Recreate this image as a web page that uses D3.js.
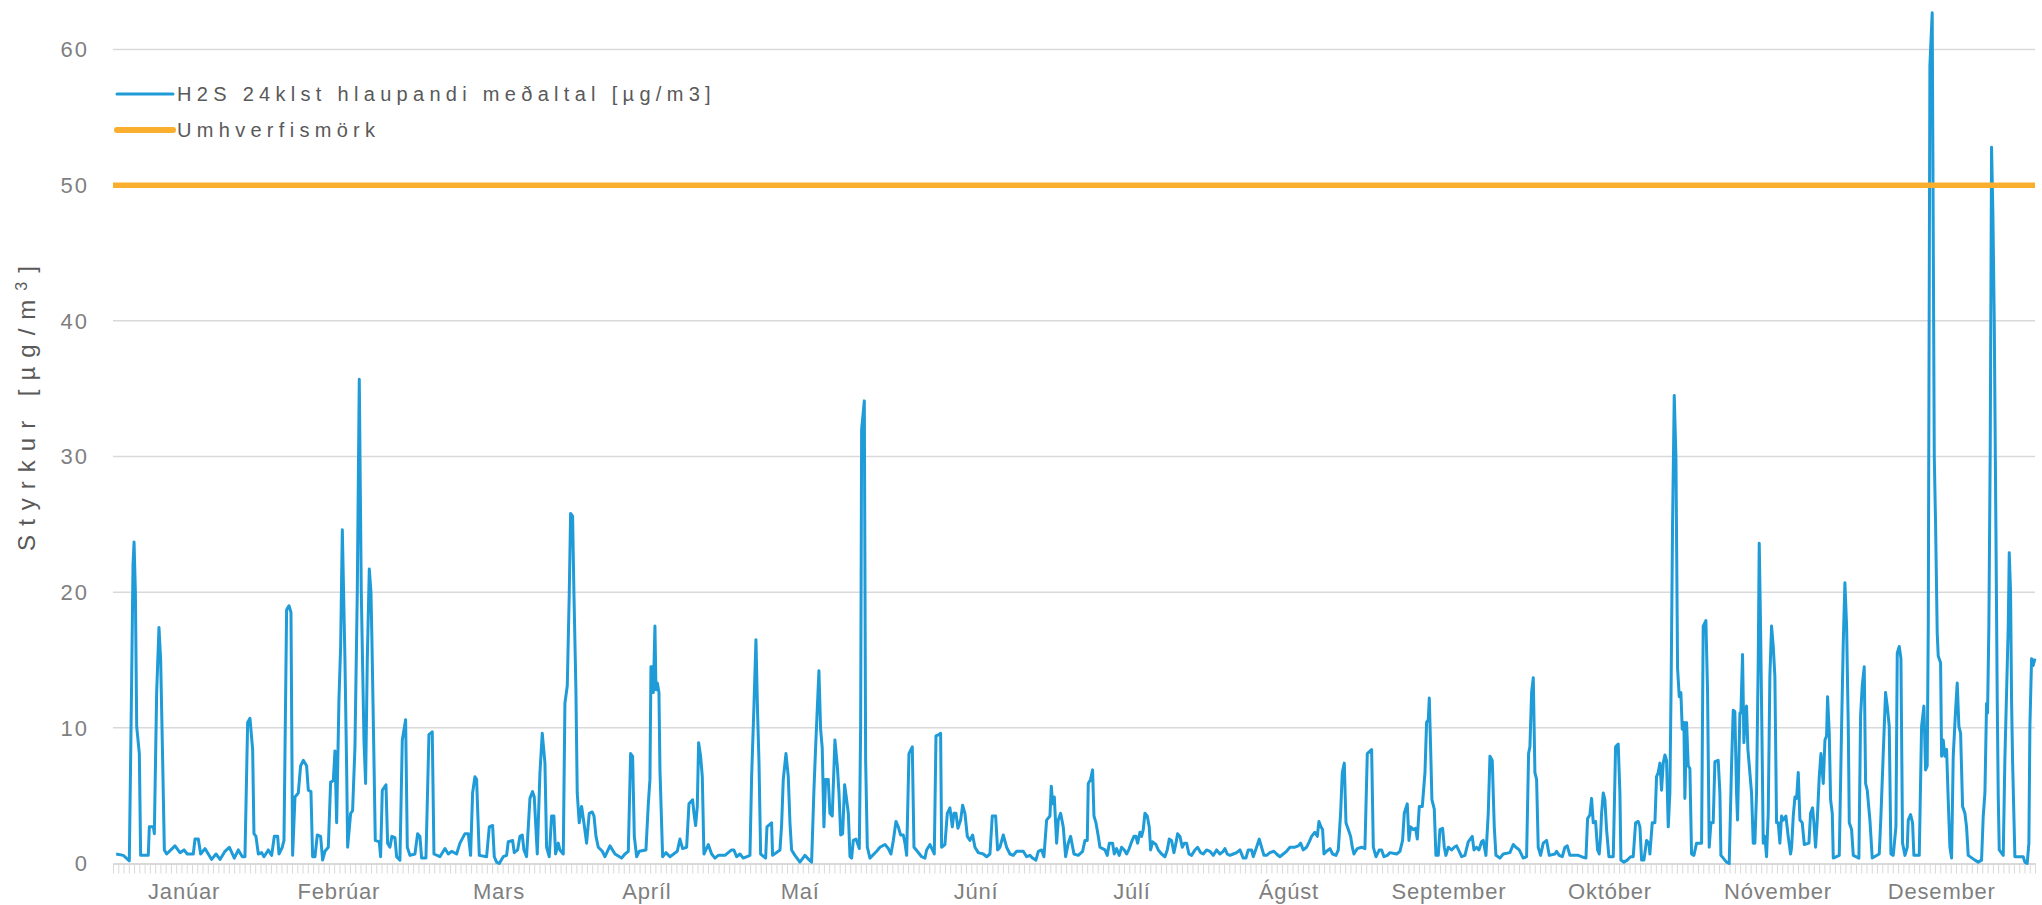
<!DOCTYPE html>
<html><head><meta charset="utf-8">
<script src="https://cdn.jsdelivr.net/npm/d3@7"></script>
<style>body{margin:0;background:#fff} svg{display:block} text{font-family:"Liberation Sans",Arial,sans-serif}</style>
</head><body>
<svg id="chart" width="2042" height="905"></svg>
<script>
// ---- DATA ----
const monthLabels = ["Janúar","Febrúar","Mars","Apríl","Maí","Júní","Júlí","Ágúst","September","Október","Nóvember","Desember"];
const monthLabelDay = [13.5, 42.9, 73.3, 101.4, 130.5, 163.9, 193.5, 223.3, 253.7, 284.3, 316.2, 347.3];
const yTicks = [0, 10, 20, 30, 40, 50, 60];
const limitValue = 50;
const seriesName = "H2S 24klst hlaupandi meðaltal [µg/m3]";
const limitName = "Umhverfismörk";
const yTitle = "Styrkur [µg/m";

// [day of year, H2S µg/m3]
const h2sSeg1 = [[0.6,0.7],[1.96,0.6],[3.1,0.2],[3.55,13.8],[3.8,22],[4.0,23.7],[4.25,20],[4.5,10.1],[5.0,8.1],[5.25,0.6],[6.7,0.6],[6.9,2.7],[7.66,2.7],[7.85,2.2],[8.29,12.6],[8.73,17.4],[9.05,15],[9.43,7.6],[9.75,1.0],[10.19,0.7],[11.77,1.3],[12.72,0.8],[13.48,1.0],[14.11,0.7],[15.25,0.7],[15.57,1.8],[16.2,1.8],[16.65,0.7],[17.47,1.1],[18.73,0.3],[19.56,0.7],[20.32,0.3],[21.27,0.9],[22.09,1.2],[23.04,0.4],[23.8,1.0],[24.56,0.5],[25.06,0.5],[25.57,10.4],[26.01,10.7],[26.52,8.4],[26.77,2.2],[27.15,2.0],[27.6,0.7],[28.23,0.8],[28.67,0.5],[29.49,1.0],[30.13,0.6],[30.63,2.0],[31.27,2.0],[31.52,0.7],[32.15,1.2],[32.47,1.7],[32.97,18.7],[33.42,19.0],[33.8,18.5],[34.11,0.6],[34.56,4.9],[35.19,5.2],[35.63,7.2],[36.14,7.6],[36.77,7.2],[37.09,5.4],[37.59,5.3],[37.91,0.5],[38.35,0.5],[38.8,2.1],[39.43,2.0],[39.81,0.25],[40.25,0.9],[40.89,1.2],[41.33,6.0],[41.84,6.1],[42.15,8.3],[42.47,3.0],[42.91,12.1],[43.23,16],[43.55,24.6],[44.05,15],[44.37,7],[44.56,1.2],[45.13,3.7],[45.5,3.9]];
const h2sSeg2 = [[45.95,8.6],[46.39,20],[46.77,35.7],[47.15,20],[47.66,9.1],[47.97,5.9],[48.29,15],[48.67,21.7],[48.99,20],[49.18,16.3],[49.56,7.6],[49.81,1.7],[50.57,1.6],[50.82,0.5],[51.14,5.4],[51.84,5.8],[52.15,1.5],[52.59,1.2],[52.97,2.0],[53.54,1.9],[53.86,0.5],[54.49,0.25],[54.94,9.1],[55.57,10.6],[55.89,1.2],[56.39,0.6],[57.34,0.7],[57.85,2.2],[58.29,2.0],[58.61,0.4],[59.43,0.4],[60.0,9.5],[60.63,9.7],[60.95,0.7],[62.09,0.5],[63.04,1.1],[63.67,0.7],[64.3,0.9],[65.25,0.7],[65.89,1.5],[66.84,2.2],[67.47,2.2],[67.91,0.6],[68.29,5.2],[68.73,6.4],[69.05,6.2],[69.56,0.6],[70.95,0.5],[71.46,2.7],[72.09,2.8],[72.41,0.5],[72.85,0.1],[73.35,0.0],[74.11,0.5],[74.75,0.6],[75.06,1.6],[75.89,1.7],[76.2,0.8],[76.84,1.0],[77.28,2.0],[77.72,2.1],[78.04,1.0],[78.54,0.5],[79.18,4.8],[79.68,5.3],[80.0,4.9],[80.57,0.7],[81.08,6.7],[81.52,9.6],[82.03,7.4],[82.34,1.2],[82.85,0.5],[83.29,3.5],[83.73,3.5],[84.05,0.7],[84.56,1.5],[84.87,1.0],[85.51,0.7],[85.82,11.8],[86.27,13.1],[86.65,20],[86.9,25.8],[87.28,25.6],[87.53,20],[87.91,12.8],[88.16,5.2],[88.54,3.0],[88.99,4.2],[89.43,3.0],[89.94,1.5],[90.44,3.7],[91.0,3.8],[91.34,3.5]];
const h2sSeg3 = [[91.72,2.0],[92.16,1.2],[92.92,0.9],[93.43,0.5],[94.38,1.3],[95.33,0.7],[96.59,0.4],[97.23,0.7],[97.86,0.9],[98.3,8.1],[98.68,7.9],[99.0,2.0],[99.44,0.5],[99.95,0.9],[101.21,1.0],[101.66,4.4],[101.97,6.2],[102.16,14.5],[102.48,14.5],[102.61,12.6],[102.92,17.5],[103.11,12.8],[103.37,13.3],[103.68,12.6],[103.87,6.9],[104.38,0.5],[105.01,0.8],[105.77,0.5],[107.16,0.9],[107.67,1.8],[108.17,1.1],[108.94,1.2],[109.38,4.4],[110.07,4.7],[110.33,3.7],[110.64,2.8],[110.96,4.2],[111.21,8.9],[111.59,7.9],[111.91,6.4],[112.22,0.7],[113.05,1.4],[113.68,0.7],[114.31,0.4],[114.95,0.6],[116.21,0.6],[117.48,1.0],[117.92,1.0],[118.43,0.5],[119.06,0.7],[119.69,0.4],[120.96,0.6],[121.28,6.4],[121.72,11.6],[122.1,16.5],[122.41,11.1],[122.67,7.6],[122.99,0.7],[123.94,0.4],[124.19,2.7],[125.07,3.0],[125.26,0.6],[126.66,1.0],[126.97,2.8],[127.29,6.2],[127.8,8.1],[128.24,6.4],[128.56,3.0],[128.87,1.0],[129.5,0.6],[130.45,0.1],[131.4,0.6],[132.23,0.25],[132.67,0.1],[133.11,5.4],[133.49,9.1],[134.06,14.2],[134.38,9.9],[134.69,8.5],[135.01,2.7],[135.33,6.2],[135.83,6.2],[136.15,3.7],[136.59,3.5],[137.1,9.1]];
const h2sSeg4 = [[137.55,7.2],[137.87,5.2],[138.19,2.1],[138.56,2.2],[138.94,5.8],[139.32,4.7],[139.64,3.7],[139.96,0.5],[140.27,0.4],[140.59,1.7],[141.1,1.8],[141.73,1.1],[141.98,10],[142.17,32],[142.49,33.3],[142.68,34.1],[142.93,7.6],[143.25,1.2],[143.75,0.4],[145.02,0.9],[145.65,1.2],[146.6,1.4],[147.24,1.1],[147.74,0.7],[148.19,1.7],[148.69,3.1],[149.13,2.7],[149.58,2.1],[150.08,2.1],[150.4,1.5],[150.72,0.6],[151.16,8.1],[151.79,8.6],[152.11,1.2],[152.74,0.9],[153.56,0.5],[154.2,0.4],[154.51,1.0],[155.15,1.4],[155.97,0.7],[156.29,9.4],[156.86,9.5],[157.17,9.6],[157.36,1.2],[157.99,1.4],[158.44,3.7],[158.94,4.1],[159.39,2.7],[159.7,3.7],[160.08,3.7],[160.46,2.6],[160.97,3.2],[161.35,4.3],[161.79,3.7],[162.24,2.0],[162.74,1.7],[163.25,2.1],[163.69,1.2],[164.32,0.8],[165.27,0.7],[165.91,0.5],[166.54,0.7],[166.98,3.5],[167.62,3.5],[167.99,1.0],[168.44,1.2],[169.07,2.1],[169.7,1.2],[170.34,0.7],[170.97,0.6],[171.6,0.9],[172.87,0.9],[173.5,0.5],[174.13,0.6],[174.64,0.4],[175.27,0.25],[175.72,0.9],[176.35,1.0],[176.79,0.5],[177.3,3.2],[177.93,3.5],[178.19,5.7],[178.44,4.4],[178.76,4.9],[179.2,1.5],[179.51,3.2],[179.96,3.7],[180.46,2.7],[180.91,0.5],[181.41,1.5],[181.86,2.0]];
const h2sSeg5 = [[182.49,0.7],[183.31,0.6],[184.14,0.9],[184.58,1.7],[185.02,1.7],[185.21,5.9],[185.65,6.2],[186.03,6.9],[186.29,3.5],[186.67,3.0],[187.11,2.0],[187.43,1.2],[188.38,1.0],[188.82,0.6],[189.2,1.5],[189.83,1.5],[190.15,0.7],[190.59,1.1],[191.1,0.6],[191.54,1.2],[192.05,1.0],[192.49,0.7],[192.99,1.1],[193.44,1.6],[193.88,2.0],[194.26,2.0],[194.58,1.5],[195.02,2.3],[195.34,2.0],[195.65,2.5],[195.97,3.7],[196.41,3.5],[196.79,2.7],[197.05,1.0],[197.43,1.6],[198.06,1.4],[198.5,1.0],[199.14,0.7],[199.77,0.5],[200.21,1.0],[200.59,1.8],[201.03,1.7],[201.48,0.8],[201.86,1.5],[202.17,2.2],[202.62,2.0],[203.06,1.2],[203.44,1.5],[203.88,1.5],[204.33,0.7],[204.83,0.6],[205.46,1.0],[205.97,1.2],[206.54,0.8],[207.05,0.7],[207.68,1.0],[208.31,0.9],[208.95,0.6],[209.58,1.0],[210.21,0.7],[210.84,0.9],[211.16,1.1],[211.6,0.7],[212.11,0.6],[212.74,0.7],[213.38,0.8],[214.01,1.0],[214.64,0.4],[215.15,0.4],[215.59,1.0],[216.22,1.0],[216.54,0.5],[217.17,1.2],[217.68,1.8],[218.12,1.2],[218.57,0.6],[219.07,0.6],[219.7,0.8],[220.46,0.9],[220.97,0.7],[221.6,0.5],[222.24,0.7],[222.87,0.9],[223.5,1.2],[224.01,1.2],[224.45,1.2],[225.09,1.3],[225.53,1.5],[226.04,1.0],[226.67,1.2],[227.17,1.6],[227.62,2.0],[228.25,2.3]];
const h2sSeg6 = [[228.7,2.0],[229.02,3.1],[229.4,2.7],[229.71,2.5],[229.97,0.7],[230.47,0.9],[231.11,1.1],[231.61,0.7],[232.25,0.6],[232.69,1.0],[233.13,3.7],[233.45,6.7],[233.83,7.4],[234.15,3.0],[234.59,2.5],[235.03,2.0],[235.35,1.2],[235.66,0.7],[236.3,1.1],[237.12,1.2],[237.75,1.1],[238.2,8.1],[239.02,8.4],[239.34,1.2],[239.84,0.5],[240.47,1.0],[240.92,1.0],[241.36,0.5],[242.0,0.6],[242.5,0.8],[243.77,0.7],[244.4,0.9],[244.9,1.7],[245.22,3.7],[245.79,4.4],[246.11,1.7],[246.42,2.7],[246.93,2.5],[247.37,2.6],[247.69,1.8],[248.07,4.2],[248.64,4.2],[249.15,6.7],[249.46,10.4],[249.78,10.6],[249.97,12.2],[250.22,8.6],[250.47,4.7],[250.92,4.0],[251.23,0.6],[251.68,0.6],[251.99,2.5],[252.5,2.6],[252.82,1.2],[253.13,0.6],[253.58,1.2],[254.21,1.0],[254.71,1.2],[255.16,1.3],[255.66,0.9],[256.11,0.5],[256.74,0.6],[257.37,1.6],[258.13,2.0],[258.45,1.0],[258.95,1.2],[259.4,1.0],[259.9,1.6],[260.22,1.7],[260.73,0.6],[261.17,3.7],[261.49,7.9],[261.93,7.6],[262.31,2.7],[262.63,0.6],[263.39,0.4],[264.02,0.7],[265.28,0.8],[265.92,1.4],[266.42,1.2],[267.06,1.0],[267.81,0.4],[268.45,0.5],[268.83,8.1],[269.08,8.6],[269.4,12.6],[269.72,13.7],[270.03,6.7],[270.35,6.2],[270.66,1.2],[271.11,0.6],[271.61,1.5],[272.25,1.7],[272.75,0.6]];
const h2sSeg7 = [[273.83,0.7],[274.15,0.9],[274.65,0.6],[275.22,0.5],[275.73,1.2],[276.17,1.3],[276.68,0.6],[278.26,0.6],[278.89,0.5],[279.72,0.4],[280.03,3.3],[280.48,3.6],[280.79,4.8],[281.11,3.0],[281.55,3.1],[281.93,1.0],[282.25,0.7],[282.5,2.0],[282.69,3.7],[283.01,5.2],[283.32,4.7],[283.64,2.5],[284.08,0.5],[284.91,0.5],[285.35,8.6],[285.85,8.8],[286.17,5.2],[286.36,0.25],[286.93,0.1],[287.56,0.25],[288.2,0.5],[288.7,0.5],[289.15,3.0],[289.65,3.1],[289.97,2.7],[290.29,0.25],[290.73,0.25],[291.24,1.7],[291.68,1.5],[291.87,0.7],[292.31,3.0],[292.82,3.0],[293.13,6.4],[293.45,6.7],[293.77,7.4],[294.08,5.4],[294.4,7.4],[294.72,8.0],[295.03,7.6],[295.35,2.7],[295.66,5.2],[295.92,14],[296.17,25],[296.49,34.5],[296.81,30],[297.12,14.4],[297.44,12.3],[297.75,12.6],[298.01,9.9],[298.32,10.4],[298.51,4.8],[298.83,10.4],[299.15,7.2],[299.46,7.0],[299.78,0.7],[300.22,0.6],[300.73,1.5],[301.68,1.5],[301.99,17.5],[302.5,17.9],[302.82,12.6],[303.13,1.2],[303.45,3.0],[303.89,3.0],[304.21,7.5],[304.84,7.6],[305.16,5.2],[305.35,0.6],[305.79,0.4],[306.42,0.1],[306.93,0.0],[307.37,7.2],[307.69,11.3],[308.0,11.2],[308.32,5.2],[308.51,3.2],[308.96,11.1],[309.15,11.1],[309.46,15.4],[309.72,8.9],[310.03,11.3],[310.22,11.6],[310.48,8.4],[310.85,6.7],[311.17,5.2],[311.49,1.5],[311.8,1.5],[312.12,5.2],[312.44,15],[312.63,23.6],[312.88,17.5],[313.13,10],[313.39,1.5],[313.7,2.0],[314.02,0.5],[314.34,3.7],[314.65,13.8],[314.97,17.5],[315.29,16.0],[315.6,13.8],[315.92,3.0],[316.24,3.0],[316.55,1.5],[316.87,3.5],[317.19,3.2],[317.69,3.5],[318.13,2.0],[318.58,0.7]];
const h2sSeg8 = [[318.78,1.2],[319.09,3.5],[319.41,4.9],[319.73,4.8],[320.04,6.7],[320.36,3.2],[320.8,3.0],[321.18,1.4],[322.07,1.5],[322.38,3.7],[322.76,4.1],[323.02,3.0],[323.33,1.2],[323.65,3.2],[324.03,6.4],[324.35,8.1],[324.79,5.9],[325.11,9.1],[325.42,9.4],[325.61,12.3],[325.93,9.6],[326.18,4.7],[326.5,3.7],[326.69,0.4],[327.83,0.6],[328.27,10.1],[328.59,16.3],[328.9,20.7],[329.22,17.5],[329.54,10.1],[329.73,3.0],[330.17,2.5],[330.49,0.6],[331.56,0.4],[331.88,10.9],[332.19,13.1],[332.57,14.5],[332.83,5.9],[333.14,5.4],[333.65,3.2],[334.09,0.4],[335.42,0.7],[335.74,3.5],[336.18,8.1],[336.62,12.6],[336.94,11.6],[337.32,10.1],[337.64,0.7],[338.08,0.6],[338.59,2.7],[338.84,15.5],[339.22,16.0],[339.54,15.1],[339.85,1.5],[340.3,0.6],[340.74,1.2],[340.93,3.2],[341.37,3.6],[341.75,3.0],[342.0,0.6],[343.02,0.6],[343.46,10.1],[343.9,11.6],[344.22,6.9],[344.53,7.2],[344.73,17.5],[345.04,58.8],[345.48,62.7],[345.87,30],[346.12,25],[346.43,17],[346.62,15.3],[347.07,14.8],[347.26,7.9],[347.57,9.1],[347.89,7.9],[348.21,8.4],[348.52,4.7],[348.84,1.2],[349.16,0.4],[349.47,7.9],[349.92,11.3],[350.23,13.3],[350.55,10.1],[350.87,9.6],[351.25,4.2],[351.69,3.7],[352.0,2.7],[352.32,0.6],[353.59,0.25],[354.22,0.1],[354.85,0.25],[355.17,3.5],[355.49,5.2],[355.8,11.8],[355.99,11.1],[356.24,17.5],[356.5,30.7],[356.75,52.8],[357.0,48],[357.26,40],[357.57,25],[357.83,12],[358.02,5.0],[358.21,1.0],[358.97,0.6],[359.28,7.7],[359.6,12.6],[359.92,17.5],[360.11,22.9],[360.36,20],[360.55,12],[360.74,7.6],[361.18,0.5],[362.13,0.5],[362.76,0.5],[363.08,0.1],[363.52,0.0],[363.84,1.5],[364.03,10.1],[364.35,15.1],[364.66,14.6],[364.98,15.1]];

const h2s = [].concat(h2sSeg1, h2sSeg2, h2sSeg3, h2sSeg4, h2sSeg5, h2sSeg6, h2sSeg7, h2sSeg8);

// ---- CHART ----
const svg = d3.select("#chart");
const M = {left: 113, right: 2035, top: 49.5, bottom: 863.5};
const x = d3.scaleLinear().domain([0, 365]).range([M.left, M.right]);
const y = d3.scaleLinear().domain([0, 60]).range([M.bottom, M.top]);
const grey = "#7f7f7f", dark = "#595959", gridC = "#d9d9d9";

// gridlines
svg.append("g").selectAll("line").data(yTicks.filter(t => t > 0)).join("line")
  .attr("x1", M.left).attr("x2", M.right)
  .attr("y1", d => y(d)).attr("y2", d => y(d))
  .attr("stroke", gridC).attr("stroke-width", 1.5);

// x axis with daily ticks
const gx = svg.append("g").attr("transform", `translate(0,${M.bottom})`)
  .call(d3.axisBottom(x).tickValues(d3.range(0, 366)).tickSize(10).tickSizeOuter(0).tickFormat(""));
gx.select(".domain").attr("stroke", gridC).attr("stroke-width", 2);
gx.selectAll(".tick line").attr("stroke", gridC).attr("stroke-width", 1);

// month labels
svg.append("g").selectAll("text").data(monthLabels).join("text")
  .attr("x", (d, i) => x(monthLabelDay[i]))
  .attr("y", 899)
  .attr("text-anchor", "middle")
  .attr("font-size", 22).attr("letter-spacing", 0.8)
  .attr("fill", grey)
  .text(d => d);

// y tick labels
svg.append("g").selectAll("text").data(yTicks).join("text")
  .attr("x", 89).attr("y", d => y(d)).attr("dy", "0.36em")
  .attr("text-anchor", "end")
  .attr("font-size", 22).attr("letter-spacing", 2)
  .attr("fill", grey)
  .text(d => d);

// y title
const yt = svg.append("text")
  .attr("transform", "translate(27,404) rotate(-90)")
  .attr("text-anchor", "middle").attr("dy", "0.35em")
  .attr("font-size", 24).attr("letter-spacing", 9)
  .attr("fill", dark);
yt.append("tspan").text(yTitle);
yt.append("tspan").attr("font-size", 16).attr("baseline-shift", "super").text("3");
yt.append("tspan").text("]");

// series line
const line = d3.line().x(d => x(d[0])).y(d => y(d[1]));
svg.append("path").datum(h2s)
  .attr("d", line)
  .attr("fill", "none").attr("stroke", "#1f9bd8").attr("stroke-width", 3)
  .attr("stroke-linejoin", "round");

// limit line
svg.append("line")
  .attr("x1", M.left).attr("x2", M.right)
  .attr("y1", y(limitValue)).attr("y2", y(limitValue))
  .attr("stroke", "#f9ae2e").attr("stroke-width", 5.5);

// legend
const leg = [{name: seriesName, color: "#1f9bd8", w: 3, yy: 94}, {name: limitName, color: "#f9ae2e", w: 6, yy: 130}];
const lg = svg.append("g");
lg.selectAll("line").data(leg).join("line")
  .attr("x1", 117).attr("x2", 173).attr("y1", d => d.yy).attr("y2", d => d.yy)
  .attr("stroke", d => d.color).attr("stroke-width", d => d.w).attr("stroke-linecap", "round");
lg.selectAll("text").data(leg).join("text")
  .attr("x", 177).attr("y", d => d.yy).attr("dy", "0.36em")
  .attr("font-size", 20).attr("letter-spacing", 5.3)
  .attr("fill", dark)
  .text(d => d.name);
</script>
</body></html>
